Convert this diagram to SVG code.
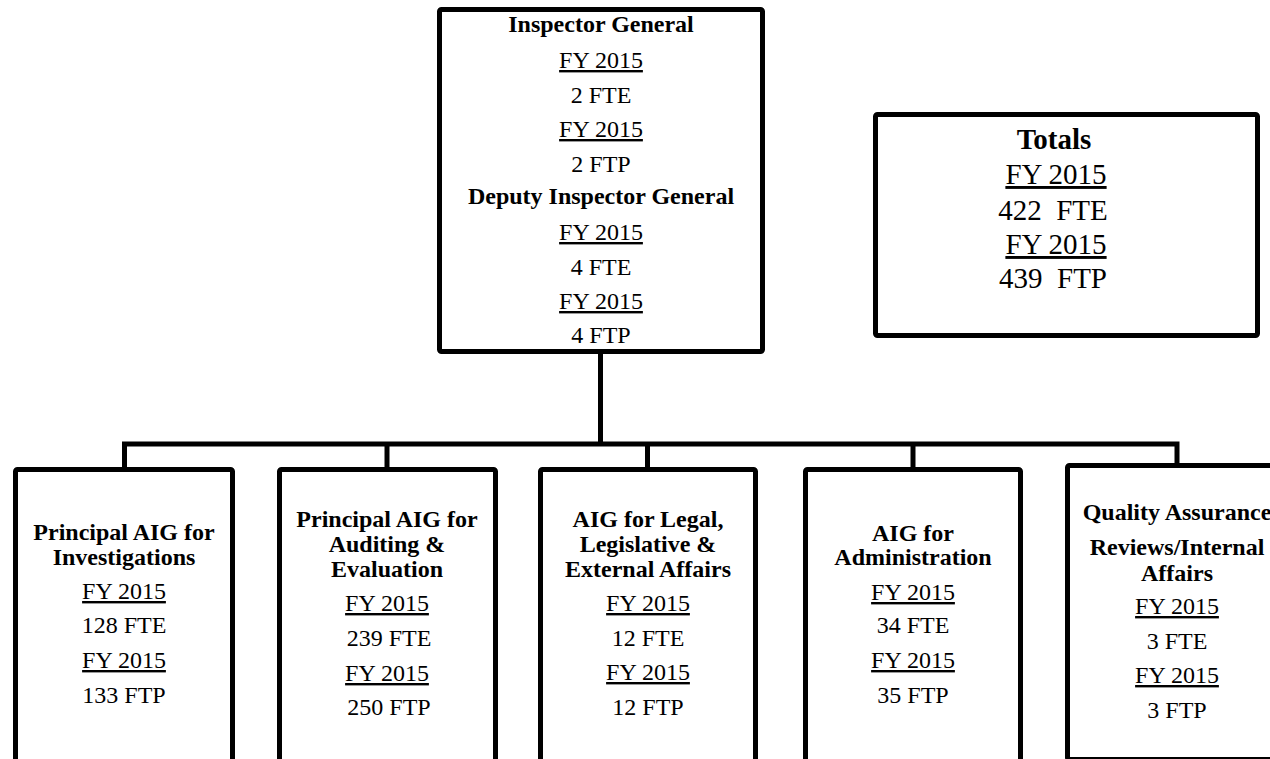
<svg xmlns="http://www.w3.org/2000/svg" width="1270" height="759" viewBox="0 0 1270 759">
<style>
.box{fill:#fff;stroke:#000;stroke-width:5;stroke-linejoin:round}
.conn{fill:none;stroke:#000;stroke-width:5;stroke-linejoin:miter;stroke-linecap:butt}
text{font-family:"Liberation Serif","Times New Roman",serif;font-size:24px;fill:#000;text-anchor:middle}
.b{font-weight:bold}
.u{text-decoration:underline}
.big{font-size:29px}
</style>
<rect width="1270" height="759" fill="#fff"/>
<g id="connectors">
<path class="conn" d="M600.5,354 V444"/>
<path class="conn" d="M124.5,469 V444 H1177 V465"/>
<path class="conn" d="M387,444 V469"/>
<path class="conn" d="M647.5,444 V469"/>
<path class="conn" d="M913,444 V469"/>
</g>
<g id="inspector-general">
<rect class="box" x="439.5" y="9.5" width="323" height="342" rx="2"/>
<text class="b" x="601" y="32">Inspector General</text>
<text class="u" x="601" y="68">FY 2015</text>
<text x="601" y="103">2 FTE</text>
<text class="u" x="601" y="137">FY 2015</text>
<text x="601" y="172">2 FTP</text>
<text class="b" x="601" y="204">Deputy Inspector General</text>
<text class="u" x="601" y="240">FY 2015</text>
<text x="601" y="275">4 FTE</text>
<text class="u" x="601" y="309">FY 2015</text>
<text x="601" y="343">4 FTP</text>
</g>
<g id="totals">
<rect class="box" x="875.5" y="114.5" width="382" height="221" rx="2"/>
<text class="b big" x="1054" y="149">Totals</text>
<text class="u big" x="1056" y="184">FY 2015</text>
<text class="big" x="1053" y="220" xml:space="preserve">422  FTE</text>
<text class="u big" x="1056" y="254">FY 2015</text>
<text class="big" x="1053" y="288" xml:space="preserve">439  FTP</text>
</g>
<g id="investigations">
<rect class="box" x="15.5" y="469.5" width="217" height="292" rx="2"/>
<text class="b" x="124" y="540">Principal AIG for</text>
<text class="b" x="124" y="565">Investigations</text>
<text class="u" x="124" y="599">FY 2015</text>
<text x="124" y="633">128 FTE</text>
<text class="u" x="124" y="668">FY 2015</text>
<text x="124" y="703">133 FTP</text>
</g>
<g id="auditing">
<rect class="box" x="279.5" y="469.5" width="216" height="292" rx="2"/>
<text class="b" x="387" y="527">Principal AIG for</text>
<text class="b" x="387" y="552">Auditing &amp;</text>
<text class="b" x="387" y="577">Evaluation</text>
<text class="u" x="387" y="611">FY 2015</text>
<text x="389" y="646">239 FTE</text>
<text class="u" x="387" y="681">FY 2015</text>
<text x="389" y="715">250 FTP</text>
</g>
<g id="legal">
<rect class="box" x="540.5" y="469.5" width="215" height="292" rx="2"/>
<text class="b" x="648" y="527">AIG for Legal,</text>
<text class="b" x="648" y="552">Legislative &amp;</text>
<text class="b" x="648" y="577">External Affairs</text>
<text class="u" x="648" y="611">FY 2015</text>
<text x="648" y="646">12 FTE</text>
<text class="u" x="648" y="680">FY 2015</text>
<text x="648" y="715">12 FTP</text>
</g>
<g id="administration">
<rect class="box" x="805.5" y="469.5" width="215" height="292" rx="2"/>
<text class="b" x="913" y="541">AIG for</text>
<text class="b" x="913" y="565">Administration</text>
<text class="u" x="913" y="600">FY 2015</text>
<text x="913" y="633">34 FTE</text>
<text class="u" x="913" y="668">FY 2015</text>
<text x="913" y="703">35 FTP</text>
</g>
<g id="quality-assurance">
<rect class="box" x="1067.5" y="465.5" width="300" height="294" rx="2"/>
<text class="b" x="1177" y="520">Quality Assurance</text>
<text class="b" x="1177" y="555">Reviews/Internal</text>
<text class="b" x="1177" y="581">Affairs</text>
<text class="u" x="1177" y="614">FY 2015</text>
<text x="1177" y="649">3 FTE</text>
<text class="u" x="1177" y="683">FY 2015</text>
<text x="1177" y="718">3 FTP</text>
</g>
</svg>
